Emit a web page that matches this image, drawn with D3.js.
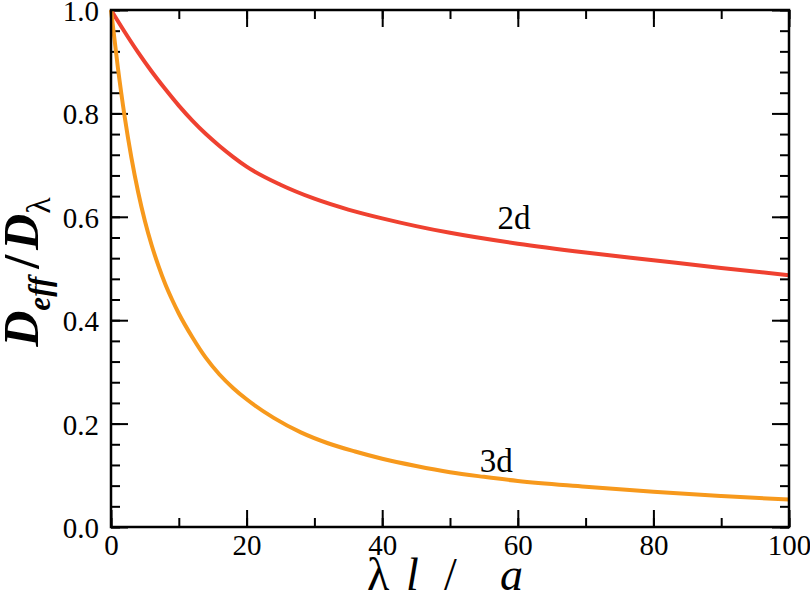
<!DOCTYPE html>
<html>
<head>
<meta charset="utf-8">
<script src="https://cdn.jsdelivr.net/npm/d3@7"></script>
<style>
  body { margin: 0; background: #fff; }
  #chart text { font-family: "Liberation Serif", "Tinos", "Times New Roman", "DejaVu Serif", serif; }
</style>
</head>
<body>
<svg id="chart"></svg>
<script>
// values
const xs2d = [0, 2, 4, 6, 8, 10, 12, 14, 16, 18, 20, 25, 30, 35, 40, 45, 50, 60, 70, 80, 90, 100];
const ys2d = [1.0, 0.958, 0.918, 0.881, 0.847, 0.815, 0.786, 0.760, 0.737, 0.716, 0.697, 0.662, 0.635, 0.614, 0.597, 0.582, 0.569, 0.548, 0.531, 0.516, 0.501, 0.487];

const xs3d = [0, 1, 2, 3, 4, 5, 6, 7, 8, 9, 10, 12, 14, 16, 18, 20, 24, 28, 32, 36, 40, 45, 50, 55, 60, 70, 80, 90, 100];
const ys3d = [1.0, 0.89, 0.795, 0.715, 0.648, 0.592, 0.545, 0.505, 0.470, 0.440, 0.413, 0.367, 0.327, 0.295, 0.269, 0.247, 0.211, 0.183, 0.162, 0.146, 0.132, 0.118, 0.106, 0.097, 0.089, 0.078, 0.068, 0.060, 0.053];

const xTicks = [0, 20, 40, 60, 80, 100];
const yTicks = [0.0, 0.2, 0.4, 0.6, 0.8, 1.0];

const series = [
  { name: "2d", xs: xs2d, ys: ys2d, color: "#ef4130", lx: 57, ly: 0.576 },
  { name: "3d", xs: xs3d, ys: ys3d, color: "#f7991c", lx: 54.4, ly: 0.106 }
];

const width = 810, height = 600;
const margin = { top: 10, right: 21, bottom: 73, left: 111 };
const innerWidth = width - margin.left - margin.right;
const innerHeight = height - margin.top - margin.bottom;

const svg = d3.select("#chart").attr("width", width).attr("height", height);
const g = svg.append("g").attr("transform", `translate(${margin.left}, ${margin.top})`);

const xScale = d3.scaleLinear().domain([0, 100]).range([0, innerWidth]);
const yScale = d3.scaleLinear().domain([0, 1]).range([innerHeight, 0]);

const minorX = d3.range(0, 101, 10);
const minorY = d3.range(0, 1.0001, 0.04);

// minor ticks on all four sides (inward)
g.append("g").attr("transform", `translate(0, ${innerHeight})`)
  .call(d3.axisBottom(xScale).tickValues(minorX).tickSize(-9).tickFormat(""));
g.append("g")
  .call(d3.axisTop(xScale).tickValues(minorX).tickSize(-9).tickFormat(""));
g.append("g")
  .call(d3.axisLeft(yScale).tickValues(minorY).tickSize(-9).tickFormat(""));
g.append("g").attr("transform", `translate(${innerWidth}, 0)`)
  .call(d3.axisRight(yScale).tickValues(minorY).tickSize(-9).tickFormat(""));

// major ticks
const xAxis = g.append("g").attr("class", "x-axis").attr("transform", `translate(0, ${innerHeight})`)
  .call(d3.axisBottom(xScale).tickValues(xTicks).tickSize(-17).tickPadding(7).tickFormat(d3.format("d")));
const yAxis = g.append("g").attr("class", "y-axis")
  .call(d3.axisLeft(yScale).tickValues(yTicks).tickSize(-17).tickPadding(12).tickFormat(d3.format(".1f")));
g.append("g")
  .call(d3.axisTop(xScale).tickValues(xTicks).tickSize(-17).tickFormat(""));
g.append("g").attr("transform", `translate(${innerWidth}, 0)`)
  .call(d3.axisRight(yScale).tickValues(yTicks).tickSize(-17).tickFormat(""));

g.selectAll(".domain").remove();
// drop the empty label nodes of the unlabelled axes
g.selectAll(".tick text").filter(function() { return this.textContent === ""; }).remove();
g.selectAll(".tick line").attr("stroke", "#000").attr("stroke-width", 2);
g.selectAll(".tick text").attr("fill", "#000").attr("font-size", 29);
yAxis.selectAll(".tick text").attr("dy", "0.36em");

// curves
const line = d3.line()
  .x(d => xScale(d[0]))
  .y(d => yScale(d[1]))
  .curve(d3.curveMonotoneX);

series.forEach(s => {
  const pts = s.xs.map((x, i) => [x, s.ys[i]]);
  g.append("path").datum(pts)
    .attr("fill", "none")
    .attr("stroke", s.color)
    .attr("stroke-width", 4)
    .attr("stroke-linejoin", "round")
    .attr("d", line);
  g.append("text")
    .attr("x", xScale(s.lx))
    .attr("y", yScale(s.ly))
    .attr("font-size", 33)
    .attr("fill", "#000")
    .text(s.name);
});

// frame
g.append("rect")
  .attr("width", innerWidth).attr("height", innerHeight)
  .attr("fill", "none").attr("stroke", "#000").attr("stroke-width", 2.5);

// x title: λ l / a  (wide spacing like the original)
const xt = svg.append("text")
  .attr("y", 590)
  .attr("font-size", 46)
  .attr("fill", "#000");
xt.append("tspan").attr("x", 367).text("λ");
xt.append("tspan").attr("x", 406).attr("font-style", "italic").text("l");
xt.append("tspan").attr("x", 444).text("/");
xt.append("tspan").attr("x", 500).attr("font-style", "italic").text("a");

// y title: D_eff / D_λ
const yt = svg.append("text")
  .attr("transform", `translate(38, 272) rotate(-90)`)
  .attr("text-anchor", "middle")
  .attr("font-size", 50)
  .attr("fill", "#000");
yt.append("tspan").attr("font-style", "italic").attr("font-weight", "bold").text("D");
yt.append("tspan").attr("font-style", "italic").attr("font-weight", "bold").attr("font-size", 31).attr("dy", 12).text("eff");
yt.append("tspan").attr("dy", -12).attr("dx", 8).attr("font-weight", "bold").text("/");
yt.append("tspan").attr("dx", 5).attr("font-style", "italic").attr("font-weight", "bold").text("D");
yt.append("tspan").attr("font-size", 34).attr("dy", 12).text("λ");
</script>
</body>
</html>
